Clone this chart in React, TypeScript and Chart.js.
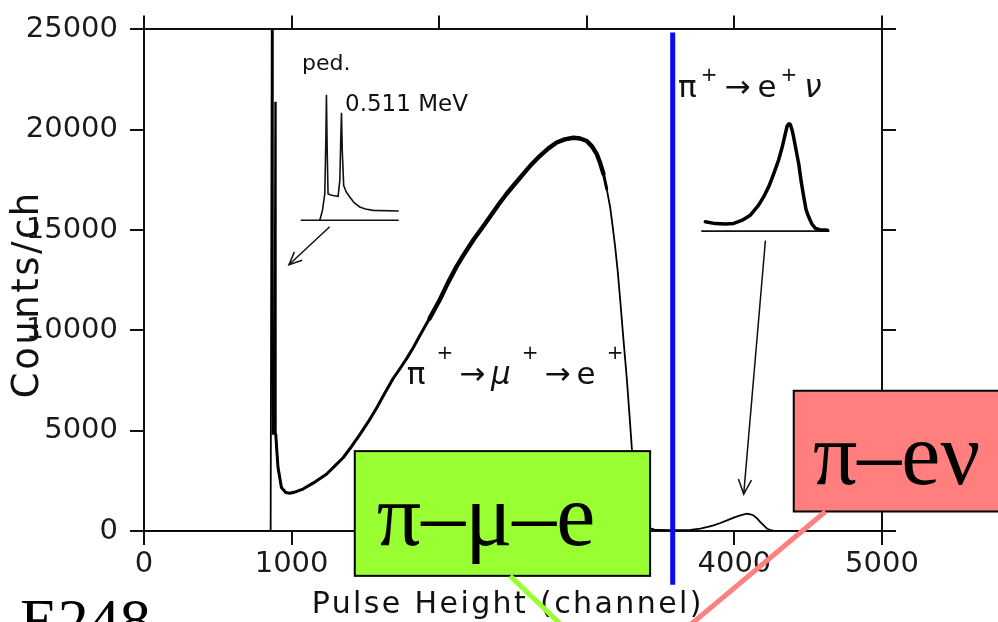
import React, { useEffect, useRef } from 'react';
import { Chart, registerables } from 'chart.js';

Chart.register(...registerables);

// ---------- data ----------
const xTickValues = [0, 1000, 2000, 3000, 4000, 5000];
const yTickValues = [0, 5000, 10000, 15000, 20000, 25000];

const spectrumChannels = [
  0, 850, 858, 866, 870, 873, 879, 884, 889, 893, 900, 908, 931, 960, 987, 1030, 1077, 1160, 1236, 1290,
  1349, 1405, 1462, 1520, 1575, 1630, 1688, 1735, 1779, 1825, 1869, 1935, 2005, 2060, 2118, 2175, 2231,
  2290, 2344, 2400, 2457, 2515, 2570, 2625, 2683, 2740, 2796, 2850, 2909, 2955, 3000, 3035, 3068, 3090,
  3113, 3135, 3158, 3175, 3192, 3210, 3226, 3250, 3271, 3290, 3305, 3325, 3350, 3380, 3420, 3470, 3600,
  3700, 3769, 3820, 3859, 3905, 3950, 4000, 4040, 4085, 4110, 4130, 4155, 4176, 4200, 4221, 4245, 4270, 5000,
];
const spectrumCounts = [
  0, 0, 0, 27000, 27000, 4800, 6000, 4800, 21400, 4800, 4000, 3160, 2170, 1920, 1880, 1960, 2090, 2450, 2830, 3220,
  3650, 4200, 4800, 5450, 6120, 6850, 7600, 8100, 8590, 9150, 9740, 10600, 11540, 12380, 13190, 13870, 14500,
  15100, 15660, 16250, 16810, 17320, 17800, 18270, 18700, 19070, 19360, 19520, 19600, 19560, 19440, 19170, 18780, 18350,
  17800, 17050, 16150, 15200, 14180, 12900, 11540, 9400, 7600, 5700, 4140, 2700, 1500, 600, 150, 50, 40,
  60, 120, 200, 280, 400, 530, 680, 775, 860, 830, 775, 620, 445, 270, 120, 40, 0, 0,
];

// inset: pedestal + 0.511 MeV (drawn in the main axes' units)
const pedInsetChannels = [1191, 1209, 1225, 1232, 1236, 1241, 1247, 1260, 1281, 1300, 1315, 1327, 1333, 1338, 1343, 1353, 1370, 1394, 1425, 1462, 1500, 1552, 1722];
const pedInsetCounts = [15490, 15980, 16810, 19500, 21740, 19000, 16810, 16760, 16720, 16700, 16680, 17500, 19500, 20840, 19000, 17220, 16900, 16650, 16350, 16150, 16050, 15980, 15950];
const pedBaseChannels = [1066, 1722];
const pedBaseCounts = [15490, 15490];

// inset: pi -> e nu peak
const enuInsetChannels = [3803, 3870, 3940, 3995, 4050, 4108, 4160, 4198, 4235, 4266, 4300, 4323, 4345, 4357, 4370, 4379, 4392, 4402, 4420, 4436, 4453, 4470, 4486, 4503, 4525, 4549, 4580, 4617, 4630];
const enuInsetCounts = [15410, 15320, 15300, 15330, 15480, 15740, 16200, 16650, 17200, 17800, 18500, 19110, 19800, 20180, 20300, 20260, 19950, 19600, 18900, 18290, 17400, 16650, 16000, 15660, 15300, 15080, 15020, 15000, 14990];
const enuBaseChannels = [3780, 4639];
const enuBaseCounts = [14950, 14950];

// annotations (in channel / counts units)
const pedArrowChannels = [1258, 982];
const pedArrowCounts = [15165, 13270];
const enuArrowChannels = [4210, 4063];
const enuArrowCounts = [14470, 1840];
const cutChannel = 3582;
const cutCounts = [24850, -2680];
const greenBoxChannels = [1428, 3429];
const greenBoxCounts = [3981, -2235];
const redBoxChannels = [4402, 5950];
const redBoxCounts = [6990, 972];
const greenLinkChannels = [2480, 2830];
const greenLinkCounts = [-2235, -4700];
const redLinkChannels = [4617, 3600];
const redLinkCounts = [972, -5300];

const pedLabel = { text: 'ped.', channel: 1070, counts: 22978 };
const mevLabel = { text: '0.511 MeV', channel: 1362, counts: 20957 };
const pimueLabel = { channel: 1780, counts: 7347 };
const pienuLabel = { channel: 3618, counts: 21647 };
const greenLabel = { text: 'π–μ–e', channel: 1577, counts: -690 };
const redLabel = { text: 'π–eν', channel: 4532, counts: 2367 };
const xTitle = { text: 'Pulse Height (channel)', channel: 1136 };
const yTitle = 'Counts/ch';
const cornerLabel = 'E248';

type Part = { t: string; sup?: boolean; it?: boolean };
const pimueParts: Part[] = [
  { t: 'π' }, { t: '+', sup: true }, { t: '→' }, { t: 'μ', it: true }, { t: '+', sup: true }, { t: '→' }, { t: 'e' }, { t: '+', sup: true },
];
const pienuParts: Part[] = [
  { t: 'π' }, { t: '+', sup: true }, { t: '→' }, { t: 'e' }, { t: '+', sup: true }, { t: 'ν', it: true },
];

const zip = (xs: number[], ys: number[]) => xs.map((x, i) => ({ x, y: ys[i] }));
const zipRange = (xs: number[], ys: number[], lo: number, hi: number) =>
  zip(xs, ys).filter((p) => p.x >= lo && p.x <= hi);

const SANS = '"DejaVu Sans"';
const SERIF = '"Liberation Serif", "Times New Roman", serif';

function drawFormula(ctx: CanvasRenderingContext2D, parts: Part[], x: number, y: number, size: number, supRaise: number, gapSup: number, gap: number) {
  let cx = x;
  for (let i = 0; i < parts.length; i++) {
    const p = parts[i];
    if (p.sup) {
      ctx.font = `${Math.round(size * 0.66)}px ${SANS}`;
      ctx.fillText(p.t, cx, y - supRaise);
    } else {
      ctx.font = `${p.it ? 'italic ' : ''}${size}px ${SANS}`;
      ctx.fillText(p.t, cx, y);
    }
    const w = ctx.measureText(p.t).width;
    const next = parts[i + 1];
    cx += w + (next && next.sup ? gapSup : gap);
  }
}

function arrow(ctx: CanvasRenderingContext2D, x1: number, y1: number, x2: number, y2: number, head: number) {
  ctx.beginPath();
  ctx.moveTo(x1, y1);
  ctx.lineTo(x2, y2);
  ctx.stroke();
  const a = Math.atan2(y2 - y1, x2 - x1);
  ctx.beginPath();
  ctx.moveTo(x2 - head * Math.cos(a - 0.42), y2 - head * Math.sin(a - 0.42));
  ctx.lineTo(x2, y2);
  ctx.lineTo(x2 - head * Math.cos(a + 0.42), y2 - head * Math.sin(a + 0.42));
  ctx.stroke();
}

const overlayPlugin = {
  id: 'overlay',
  afterDatasetsDraw(chart: any) {
    const ctx: CanvasRenderingContext2D = chart.ctx;
    const xs = chart.scales.x;
    const ys = chart.scales.y;
    const px = (v: number) => xs.getPixelForValue(v);
    const py = (v: number) => ys.getPixelForValue(v);
    ctx.save();
    ctx.strokeStyle = '#111';
    ctx.fillStyle = '#111';
    ctx.lineWidth = 1.5;
    arrow(ctx, px(pedArrowChannels[0]), py(pedArrowCounts[0]), px(pedArrowChannels[1]), py(pedArrowCounts[1]), 14);
    arrow(ctx, px(enuArrowChannels[0]), py(enuArrowCounts[0]), px(enuArrowChannels[1]), py(enuArrowCounts[1]), 16);

    ctx.textAlign = 'left';
    ctx.textBaseline = 'alphabetic';
    ctx.font = `22px ${SANS}`;
    ctx.fillText(pedLabel.text, px(pedLabel.channel), py(pedLabel.counts));
    ctx.font = `23px ${SANS}`;
    ctx.fillText(mevLabel.text, px(mevLabel.channel), py(mevLabel.counts));

    drawFormula(ctx, pimueParts, px(pimueLabel.channel), py(pimueLabel.counts), 31, 25, 11, 6);
    drawFormula(ctx, pienuParts, px(pienuLabel.channel), py(pienuLabel.counts), 31, 16, 4, 7);
    ctx.restore();
  },
  afterDraw(chart: any) {
    const ctx: CanvasRenderingContext2D = chart.ctx;
    const xs = chart.scales.x;
    const ys = chart.scales.y;
    const px = (v: number) => xs.getPixelForValue(v);
    const py = (v: number) => ys.getPixelForValue(v);
    const area = chart.chartArea;
    ctx.save();

    // axis titles
    ctx.fillStyle = '#111';
    ctx.textBaseline = 'alphabetic';
    ctx.textAlign = 'left';
    ctx.font = `30px ${SANS}`;
    (ctx as any).letterSpacing = '2.4px';
    ctx.fillText(xTitle.text, px(xTitle.channel), 613);
    ctx.save();
    ctx.translate(38, (area.top + area.bottom) / 2 + 14);
    ctx.rotate(-Math.PI / 2);
    ctx.textAlign = 'center';
    ctx.font = `37px ${SANS}`;
    (ctx as any).letterSpacing = '2.5px';
    ctx.fillText(yTitle, 0, 0);
    ctx.restore();
    (ctx as any).letterSpacing = '0px';

    // cut line
    ctx.strokeStyle = '#0a0af5';
    ctx.lineWidth = 5;
    ctx.beginPath();
    ctx.moveTo(px(cutChannel), py(cutCounts[0]));
    ctx.lineTo(px(cutChannel), py(cutCounts[1]));
    ctx.stroke();

    // boxes
    const box = (cx: number[], cy: number[], fill: string) => {
      const x0 = px(cx[0]), x1 = px(cx[1]);
      const y0 = py(cy[0]), y1 = py(cy[1]);
      ctx.fillStyle = fill;
      ctx.fillRect(x0, y0, x1 - x0, y1 - y0);
      ctx.strokeStyle = '#000';
      ctx.lineWidth = 2;
      ctx.strokeRect(x0, y0, x1 - x0, y1 - y0);
    };
    box(greenBoxChannels, greenBoxCounts, '#99ff33');
    box(redBoxChannels, redBoxCounts, '#ff7f7f');

    ctx.fillStyle = '#000';
    ctx.font = `88px ${SERIF}`;
    ctx.textAlign = 'left';
    ctx.fillText(greenLabel.text, px(greenLabel.channel), py(greenLabel.counts));
    ctx.fillText(redLabel.text, px(redLabel.channel), py(redLabel.counts));

    // connectors
    ctx.lineWidth = 5;
    ctx.strokeStyle = '#99ff33';
    ctx.beginPath();
    ctx.moveTo(px(greenLinkChannels[0]), py(greenLinkCounts[0]));
    ctx.lineTo(px(greenLinkChannels[1]), py(greenLinkCounts[1]));
    ctx.stroke();
    ctx.strokeStyle = '#ff8080';
    ctx.beginPath();
    ctx.moveTo(px(redLinkChannels[0]), py(redLinkCounts[0]));
    ctx.lineTo(px(redLinkChannels[1]), py(redLinkCounts[1]));
    ctx.stroke();

    // corner label
    ctx.fillStyle = '#000';
    ctx.font = `62px ${SERIF}`;
    ctx.fillText(cornerLabel, 20, 641);
    ctx.restore();
  },
};

export default function App() {
  const ref = useRef<HTMLCanvasElement | null>(null);
  useEffect(() => {
    document.body.style.margin = '0';
    const canvas = ref.current;
    if (!canvas) return;
    const tickFont = { family: SANS, size: 29 };
    const gridOpts = { drawOnChartArea: false, drawTicks: true, tickLength: 14, color: '#111', lineWidth: 2 };
    const borderOpts = { display: true, color: '#111', width: 2 };
    const lineBase = { pointRadius: 0, tension: 0, borderJoinStyle: 'round', borderCapStyle: 'round' };
    const chart = new Chart(canvas, {
      type: 'line',
      data: {
        datasets: [
          { ...lineBase, data: zip(spectrumChannels, spectrumCounts), borderColor: '#000', borderWidth: 1.8, borderJoinStyle: 'miter' },
          { ...lineBase, data: zipRange(spectrumChannels, spectrumCounts, 893, 3135), borderColor: '#000', borderWidth: 3 },
          { ...lineBase, data: zipRange(spectrumChannels, spectrumCounts, 1900, 3113), borderColor: '#000', borderWidth: 4.4 },
          { ...lineBase, data: zip(pedInsetChannels, pedInsetCounts), borderColor: '#111', borderWidth: 1.6, borderJoinStyle: 'miter' },
          { ...lineBase, data: zip(pedBaseChannels, pedBaseCounts), borderColor: '#111', borderWidth: 1.6 },
          { ...lineBase, data: zip(enuInsetChannels, enuInsetCounts), borderColor: '#000', borderWidth: 3.5 },
          { ...lineBase, data: zip(enuBaseChannels, enuBaseCounts), borderColor: '#111', borderWidth: 1.8 },
        ] as any,
      },
      options: {
        responsive: false,
        animation: false,
        devicePixelRatio: 1,
        layout: { padding: 0 },
        plugins: { legend: { display: false }, tooltip: { enabled: false }, title: { display: false } },
        scales: {
          x: {
            type: 'linear',
            position: 'bottom',
            min: 0,
            max: 5000,
            afterBuildTicks: (s: any) => { s.ticks = xTickValues.map((v) => ({ value: v })); },
            afterFit: (s: any) => { s.height = 91; },
            ticks: { font: tickFont, color: '#1a1a1a', padding: 2, maxRotation: 0, callback: (v: any) => String(v) },
            grid: gridOpts,
            border: borderOpts,
          },
          x2: {
            type: 'linear',
            position: 'top',
            min: 0,
            max: 5000,
            afterBuildTicks: (s: any) => { s.ticks = xTickValues.map((v) => ({ value: v })); },
            afterFit: (s: any) => { s.height = 24; },
            ticks: { display: false },
            grid: gridOpts,
            border: borderOpts,
          },
          y: {
            type: 'linear',
            position: 'left',
            min: 0,
            max: 25000,
            afterBuildTicks: (s: any) => { s.ticks = yTickValues.map((v) => ({ value: v })); },
            afterFit: (s: any) => { s.width = 144; },
            ticks: { font: tickFont, color: '#1a1a1a', padding: 12, callback: (v: any) => String(v) },
            grid: gridOpts,
            border: borderOpts,
          },
          y2: {
            type: 'linear',
            position: 'right',
            min: 0,
            max: 25000,
            afterBuildTicks: (s: any) => { s.ticks = yTickValues.map((v) => ({ value: v })); },
            afterFit: (s: any) => { s.width = 116; },
            ticks: { display: false },
            grid: gridOpts,
            border: borderOpts,
          },
        },
      } as any,
      plugins: [overlayPlugin],
    });
    return () => chart.destroy();
  }, []);
  return (
    <div style={{ width: 998, height: 622, background: '#fff' }}>
      <canvas ref={ref} width={998} height={622} style={{ display: 'block' }} />
    </div>
  );
}
